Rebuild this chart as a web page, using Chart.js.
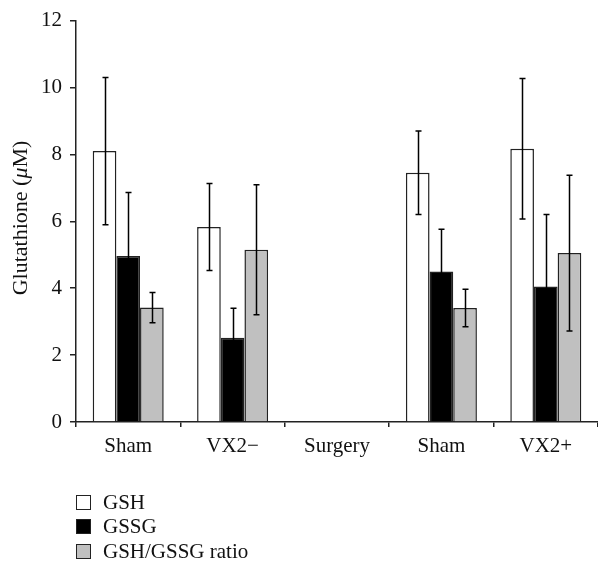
<!DOCTYPE html>
<html>
<head>
<meta charset="utf-8">
<script src="https://cdn.jsdelivr.net/npm/chart.js@4"></script>
<style>
  body { margin: 0; background: #fff; }
  #wrap { position: relative; width: 598px; height: 567px; }
  #legend { position: absolute; left: 76px; top: 490px; font-family: "Liberation Serif", serif; font-size: 21px; color: #111; }
  .row { height: 24.5px; display: flex; align-items: center; }
  .sw { width: 15px; height: 15px; border: 1.5px solid #222; box-sizing: border-box; margin-right: 12px; }
</style>
</head>
<body>
<div id="wrap">
  <canvas id="myChart" width="598" height="567"></canvas>
  <div id="legend"></div>
</div>
<script>
// data
const categories = ["Sham", "VX2\u2212", "Surgery", "Sham", "VX2+"];
const gshValues = [8.1, 5.83, null, 7.45, 8.17];
const gshErrors = [2.2, 1.3, null, 1.25, 2.1];
const gssgValues = [4.96, 2.52, null, 4.5, 4.05];
const gssgErrors = [1.9, 0.88, null, 1.26, 2.15];
const ratioValues = [3.42, 5.15, null, 3.41, 5.05];
const ratioErrors = [0.45, 1.94, null, 0.56, 2.33];
const yTicks = [0, 2, 4, 6, 8, 10, 12];

const seriesNames = ["GSH", "GSSG", "GSH/GSSG ratio"];
const seriesColors = ["#ffffff", "#000000", "#c0c0c0"];
const errorSets = [gshErrors, gssgErrors, ratioErrors];

const FONT = "Liberation Serif";
Chart.defaults.font.family = FONT;
Chart.defaults.color = "#111";

// error bars drawn from the bar elements and the y scale
const errorBars = {
  id: "errorBars",
  afterDatasetsDraw(chart) {
    const ctx = chart.ctx;
    const yScale = chart.scales.y;
    ctx.save();
    ctx.strokeStyle = "#000";
    ctx.lineWidth = 1.5;
    chart.data.datasets.forEach((ds, di) => {
      const meta = chart.getDatasetMeta(di);
      meta.data.forEach((bar, i) => {
        const v = ds.data[i];
        const e = errorSets[di][i];
        if (v == null || e == null) return;
        const x = Math.round(bar.x) + 0.5;
        const yTop = yScale.getPixelForValue(v + e);
        const yBot = yScale.getPixelForValue(v - e);
        ctx.beginPath();
        ctx.moveTo(x, yTop); ctx.lineTo(x, yBot);
        ctx.moveTo(x - 3, yTop); ctx.lineTo(x + 3, yTop);
        ctx.moveTo(x - 3, yBot); ctx.lineTo(x + 3, yBot);
        ctx.stroke();
      });
    });
    ctx.restore();
  }
};

// y title with italic mu
const yTitle = {
  id: "yTitle",
  afterDraw(chart) {
    const ctx = chart.ctx;
    const parts = [["Glutathione (", "normal"], ["\u03bc", "italic"], ["M)", "normal"]];
    ctx.save();
    ctx.translate(21, 218);
    ctx.rotate(-Math.PI / 2);
    ctx.fillStyle = "#111";
    ctx.textBaseline = "middle";
    let total = 0;
    parts.forEach(p => { ctx.font = p[1] + " 22px '" + FONT + "'"; total += ctx.measureText(p[0]).width; });
    let x = -total / 2;
    parts.forEach(p => {
      ctx.font = p[1] + " 22px '" + FONT + "'";
      ctx.fillText(p[0], x, 0);
      x += ctx.measureText(p[0]).width;
    });
    ctx.restore();
  }
};

const datasets = [gshValues, gssgValues, ratioValues].map((vals, i) => ({
  label: seriesNames[i],
  data: vals,
  backgroundColor: seriesColors[i],
  borderColor: "#222",
  borderWidth: 1.5,
  borderSkipped: "bottom",
  categoryPercentage: 0.68,
  barPercentage: 1.0
}));

new Chart(document.getElementById("myChart").getContext("2d"), {
  type: "bar",
  data: { labels: categories, datasets: datasets },
  options: {
    responsive: false,
    animation: false,
    layout: { padding: { top: 14, right: 0, bottom: 105, left: 0 } },
    plugins: { legend: { display: false }, tooltip: { enabled: false } },
    scales: {
      x: {
        grid: { display: true, drawOnChartArea: false, offset: true, tickLength: 5, color: "#222", lineWidth: 1.5 },
        border: { display: true, color: "#222", width: 1.5 },
        ticks: { font: { size: 21 }, padding: 7, color: "#111", maxRotation: 0 },
        afterFit(scale) { scale.height = 40; }
      },
      y: {
        min: 0, max: 12,
        afterBuildTicks(scale) { scale.ticks = yTicks.map(v => ({ value: v })); },
        grid: { display: true, drawOnChartArea: false, tickLength: 6, color: "#222", lineWidth: 1.5 },
        border: { display: true, color: "#222", width: 1.5 },
        ticks: { font: { size: 21 }, padding: 8, color: "#111" },
        afterFit(scale) { scale.width = 76; }
      }
    }
  },
  plugins: [errorBars, yTitle]
});

// legend as html text
const legend = document.getElementById("legend");
seriesNames.forEach((name, i) => {
  const row = document.createElement("div");
  row.className = "row";
  row.innerHTML = '<span class="sw" style="background:' + seriesColors[i] + '"></span><span>' + name + '</span>';
  legend.appendChild(row);
});
</script>
</body>
</html>
